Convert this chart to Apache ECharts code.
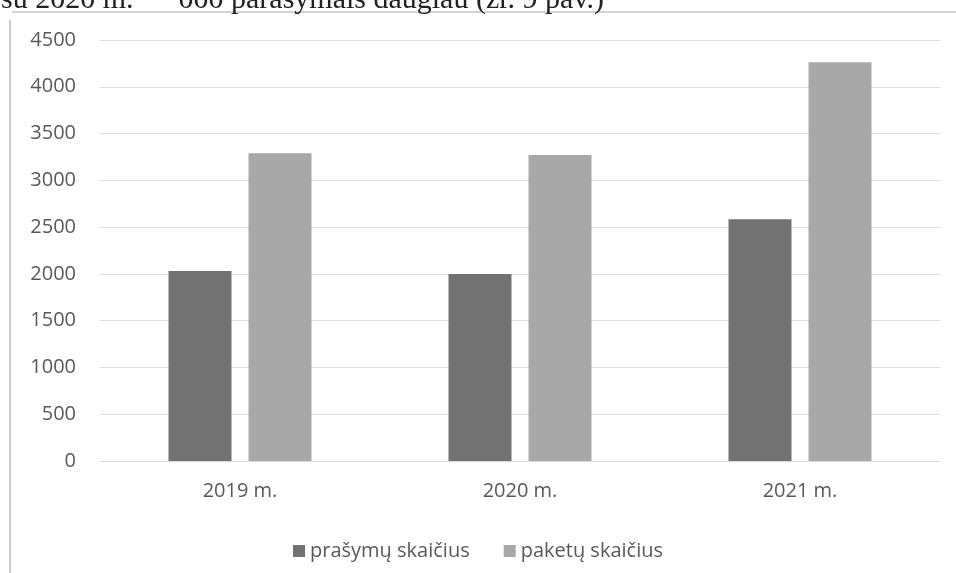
<!DOCTYPE html>
<html><head><meta charset="utf-8">
<script src="https://cdn.jsdelivr.net/npm/echarts@6/dist/echarts.min.js"></script>
<style>html,body{margin:0;padding:0;background:#fff}#c{width:956px;height:573px}</style>
</head><body><div id="c"></div>
<script>
const categories = ['2019 m.', '2020 m.', '2021 m.'];
const prasymu = [2030, 1998, 2585];
const paketu = [3290, 3270, 4263];
const seriesNames = ['prašymų skaičius', 'paketų skaičius'];
const yTicks = [0, 500, 1000, 1500, 2000, 2500, 3000, 3500, 4000, 4500];

const chart = echarts.init(document.getElementById('c'));
chart.setOption({
  backgroundColor: '#fff',
  animation: false,
  title: {
    text: 'su 2020 m.      000 parašymais daugiau (žr. 9 pav.)',
    left: -4, top: -20,
    textStyle: { fontFamily: 'Liberation Serif', fontSize: 30, fontWeight: 'normal', color: '#222' }
  },
  graphic: [
    { type: 'line', shape: { x1: 12, y1: 12, x2: 956, y2: 12 }, style: { stroke: '#aaa', lineWidth: 1 } },
    { type: 'line', shape: { x1: 10, y1: 20, x2: 10, y2: 573 }, style: { stroke: '#ccc', lineWidth: 2 } }
  ],
  grid: { left: 100, right: 16, top: 40, bottom: 112 },
  legend: {
    top: 536, left: 'center', itemWidth: 12, itemHeight: 12, itemGap: 34,
    icon: 'rect',
    textStyle: { fontFamily: 'Open Sans', fontSize: 20, color: '#595959' },
    data: seriesNames
  },
  xAxis: {
    type: 'category', data: categories,
    axisLine: { lineStyle: { color: '#d9d9d9' } },
    axisTick: { show: false },
    axisLabel: { fontFamily: 'Open Sans', fontSize: 20, color: '#595959', margin: 20 }
  },
  yAxis: {
    type: 'value', min: 0, max: 4500, interval: 500,
    axisLine: { show: false }, axisTick: { show: false },
    splitLine: { lineStyle: { color: '#e0e0e0' } },
    axisLabel: { fontFamily: 'Open Sans', fontSize: 20, color: '#595959', margin: 24,
      formatter: v => yTicks.includes(v) ? String(v) : '' }
  },
  series: [
    { name: seriesNames[0], type: 'bar', data: prasymu, barWidth: 63, barGap: '27%',
      itemStyle: { color: '#727272' } },
    { name: seriesNames[1], type: 'bar', data: paketu, barWidth: 63,
      itemStyle: { color: '#a8a8a8' } }
  ]
});
</script></body></html>
